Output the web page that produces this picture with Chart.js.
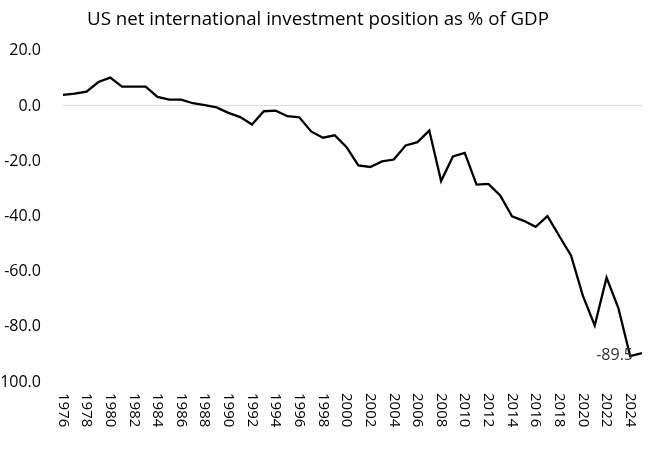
<!DOCTYPE html>
<html>
<head>
<meta charset="utf-8">
<script src="https://cdn.jsdelivr.net/npm/chart.js@4.4.1/dist/chart.umd.min.js"></script>
<style>
  html, body { margin: 0; padding: 0; background: #fff; }
  #wrap { width: 650px; height: 449px; overflow: hidden; position: relative; }
  #chart { position: absolute; left: -27px; top: 0; }
</style>
</head>
<body>
<div id="wrap"><canvas id="chart" width="690" height="449"></canvas></div>
<script>
var years = [];
for (var y = 1976; y <= 2025; y++) years.push(String(y));

// NIIP as % of GDP
var niip = [
  4.0, 4.5, 5.2, 8.7, 10.3, 7.0, 7.0, 7.0, 3.3, 2.3,
  2.3, 1.0, 0.3, -0.5, -2.5, -4.0, -6.7, -1.9, -1.7, -3.7,
  -4.1, -9.2, -11.5, -10.6, -14.9, -21.5, -22.1, -20.1, -19.4, -14.3,
  -13.1, -8.9, -27.2, -18.3, -17.0, -28.5, -28.2, -32.4, -40.0, -41.6,
  -43.8, -39.9, -47.1, -54.2, -68.8, -79.5, -62.2, -73.2, -90.6, -89.5
];

var yTicks = [20, 0, -20, -40, -60, -80, -100];

var titleText = 'US net international investment position as % of GDP';
var fontName = "'Open Sans', 'Noto Sans', sans-serif";

// x labels in the picture read top to bottom, so they are drawn here
var verticalLabels = {
  id: 'verticalLabels',
  afterDraw: function (chart) {
    var xs = chart.scales.x;
    var ctx = chart.ctx;
    ctx.save();
    ctx.fillStyle = '#000';
    ctx.font = '15px ' + fontName;
    ctx.textAlign = 'left';
    ctx.textBaseline = 'middle';
    for (var i = 0; i < years.length; i++) {
      if (i % 2 != 0) continue;
      var px = xs.getPixelForTick(i);
      ctx.save();
      ctx.translate(px, xs.top + 11);
      ctx.rotate(Math.PI / 2);
      ctx.fillText(years[i], 0, 0);
      ctx.restore();
    }
    ctx.restore();
  }
};

// title centred on the whole canvas (the built-in one keeps the space)
var pageTitle = {
  id: 'pageTitle',
  afterDraw: function (chart) {
    var ctx = chart.ctx;
    var tb = chart.titleBlock;
    ctx.save();
    ctx.fillStyle = '#000';
    ctx.font = '18.7px ' + fontName;
    ctx.textAlign = 'center';
    ctx.textBaseline = 'middle';
    ctx.fillText(titleText, chart.width / 2, tb.top + 8 + 11.5);
    ctx.restore();
  }
};

// value label on the last point
var lastLabel = {
  id: 'lastLabel',
  afterDatasetsDraw: function (chart) {
    var meta = chart.getDatasetMeta(0);
    var n = niip.length - 1;
    var pt = meta.data[n];
    var ctx = chart.ctx;
    ctx.save();
    ctx.fillStyle = '#333';
    ctx.font = '16px ' + fontName;
    ctx.textAlign = 'right';
    ctx.textBaseline = 'middle';
    ctx.fillText(niip[n].toFixed(1), pt.x - 9, pt.y + 2);
    ctx.restore();
  }
};

var ctx = document.getElementById('chart').getContext('2d');
new Chart(ctx, {
  type: 'line',
  data: {
    labels: years,
    datasets: [{
      data: niip,
      borderColor: '#000',
      borderWidth: 2.3,
      pointRadius: 0,
      tension: 0,
      fill: false
    }]
  },
  options: {
    responsive: false,
    animation: false,
    devicePixelRatio: 1,
    layout: { padding: { left: 0, right: 19, top: 0, bottom: 0 } },
    plugins: {
      legend: { display: false },
      tooltip: { enabled: false },
      title: {
        display: true,
        text: titleText,
        color: 'transparent',
        font: { family: fontName, size: 19, weight: 'normal' },
        padding: { top: 8, bottom: 20 }
      }
    },
    scales: {
      x: {
        offset: false,
        grid: { display: false },
        border: { display: false },
        afterFit: function (axis) { axis.height = 67; },
        ticks: {
          autoSkip: false,
          minRotation: 90,
          maxRotation: 90,
          color: 'transparent',
          font: { family: fontName, size: 15 },
          callback: function (v, i) { return i % 2 == 0 ? years[i] : ''; }
        }
      },
      y: {
        min: -100,
        max: 20,
        afterBuildTicks: function (axis) {
          axis.ticks = yTicks.map(function (v) { return { value: v }; });
        },
        border: { display: false },
        grid: {
          drawTicks: false,
          color: function (c) { return c.tick && c.tick.value === 0 ? '#d9d9d9' : 'transparent'; }
        },
        ticks: {
          color: '#000',
          padding: 22,
          font: { family: fontName, size: 16 },
          callback: function (v) { return v.toFixed(1); }
        }
      }
    }
  },
  plugins: [verticalLabels, pageTitle, lastLabel]
});
</script>
</body>
</html>
